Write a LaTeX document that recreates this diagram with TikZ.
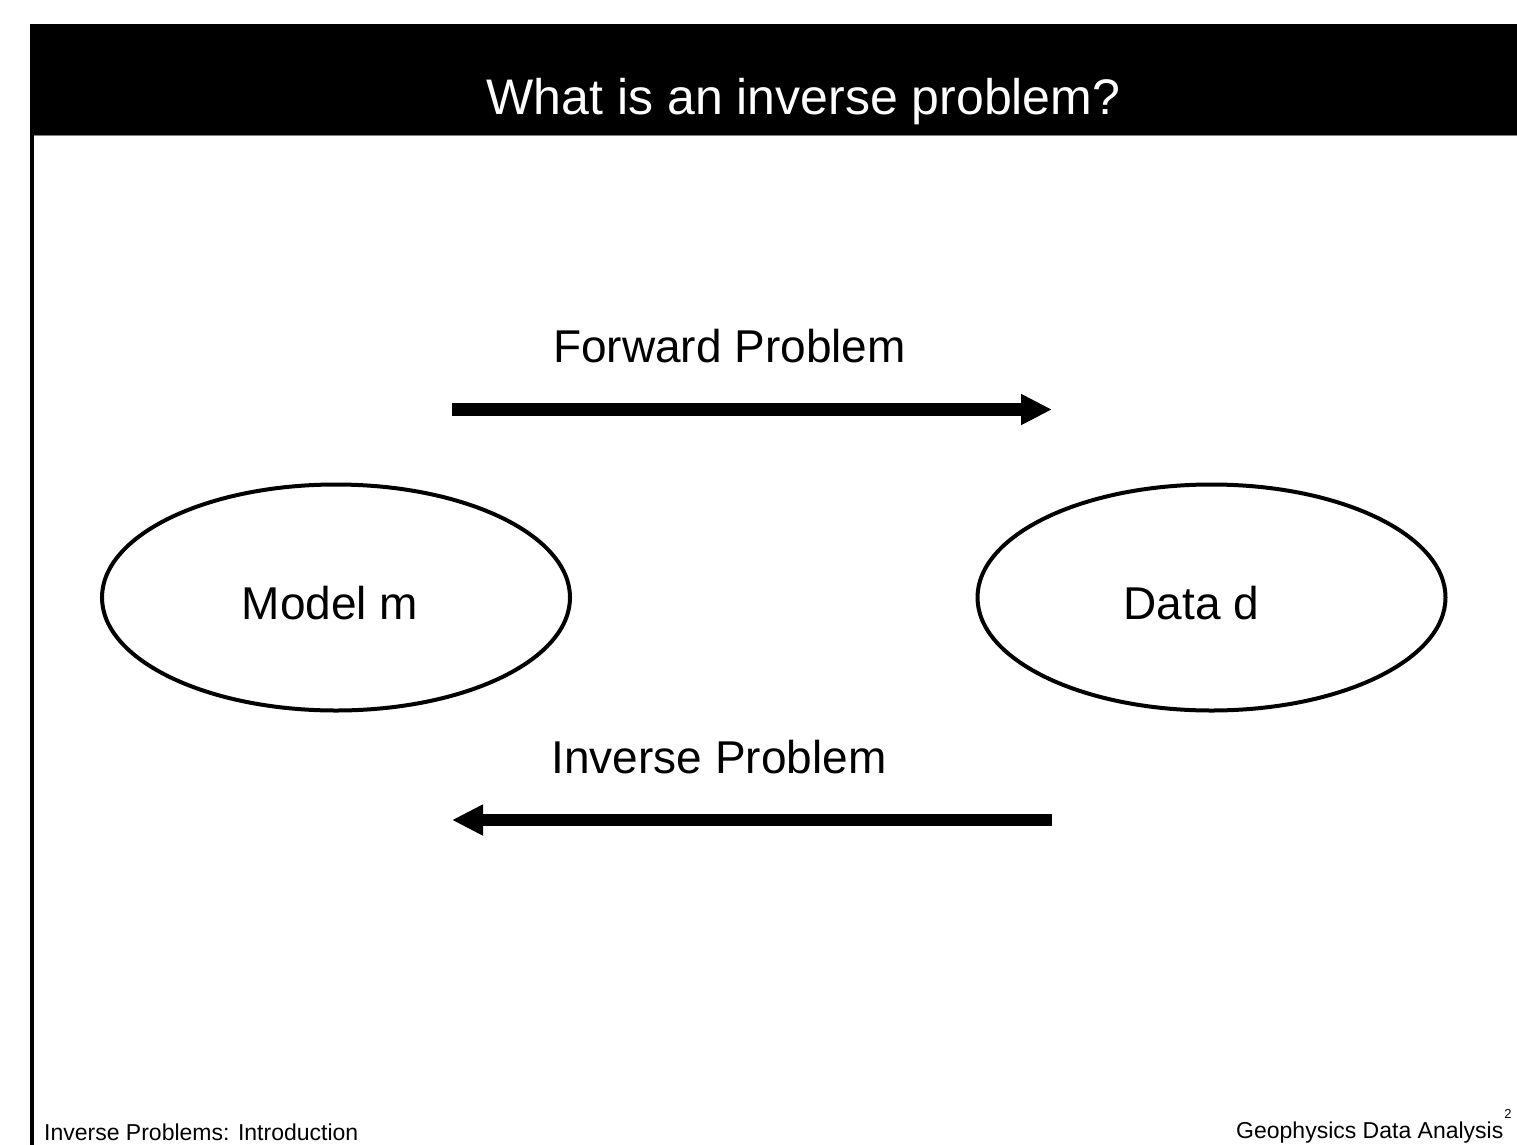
\documentclass[tikz,border=0pt]{standalone}
\usepackage{fontspec}
\setmainfont{Liberation Sans}
\usetikzlibrary{arrows.meta,shapes.geometric}
\tikzset{
  ell/.style={draw=black, line width=4pt, ellipse, minimum width=468pt, minimum height=226pt, inner sep=0pt},
  lbl/.style={inner sep=0pt, anchor=base, font=\fontsize{46}{50}\selectfont},
  foot/.style={inner sep=0pt, anchor=base west, font=\fontsize{23}{26}\selectfont},
  bigarrow/.style={line width=12.5pt, -{Triangle[length=31pt,width=29pt]}}
}
\begin{document}
\begin{tikzpicture}[x=1pt,y=-1pt]
\useasboundingbox (0,0) rectangle (1517,1145);
\fill[white] (0,0) rectangle (1517,1145);
% header bar
\fill[black] (30,24) rectangle (1517,135);
\draw[gray, line width=1.5pt] (34,135.5) -- (1517,135.5);
% left border
\fill[black] (30,135) rectangle (34,1145);
\node[inner sep=0pt, anchor=base, text=white, font=\fontsize{50}{54}\selectfont] (title) at (803.5,115) {What is an inverse problem?};
% ellipses
\node[ell] (model) at (336,597.5) {};
\node[ell] (data) at (1211.5,597.5) {};
\node[lbl] (modeltxt) at (330,619) {Model m};
\node[lbl] (datatxt) at (1191.5,619) {Data d};
% arrows
\coordinate (fs) at (452,409.5);
\coordinate (fe) at (1052,409.5);
\coordinate (is) at (1052,820);
\coordinate (ie) at (452,820);
\draw[bigarrow] (fs) -- (fe);
\draw[bigarrow] (is) -- (ie);
\node[lbl] (fwd) at (729.5,362) {Forward Problem};
\node[lbl] (inv) at (719,773) {Inverse Problem};
% footer
\node[foot] (footl) at (44,1140) {Inverse Problems: Introduction};
\node[foot] (footr) at (1236,1138) {Geophysics Data Analysis};
\node[inner sep=0pt, anchor=base, font=\fontsize{13}{15}\selectfont] (page) at (1508,1118) {2};
\end{tikzpicture}
\end{document}
